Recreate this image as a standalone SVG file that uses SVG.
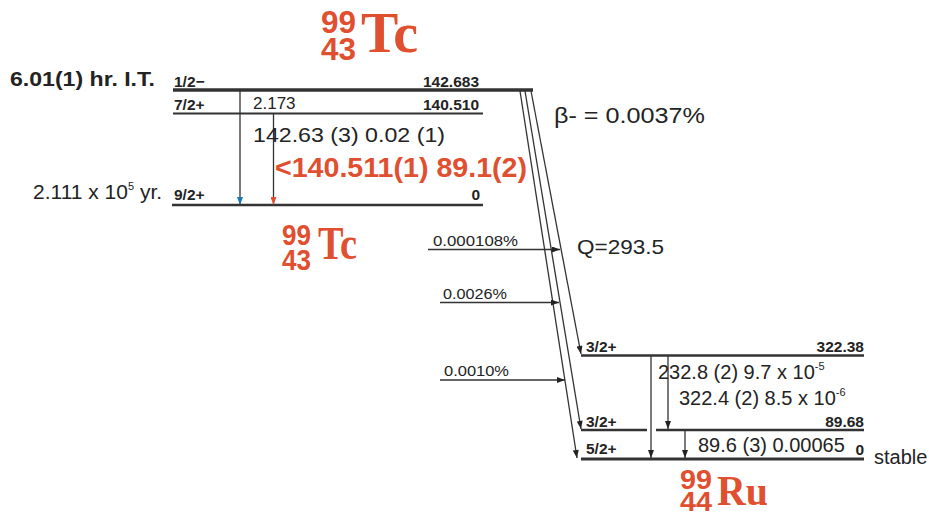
<svg xmlns="http://www.w3.org/2000/svg" width="929" height="517" viewBox="0 0 929 517">
<style>
text{font-family:"Liberation Sans",Arial,sans-serif;fill:#232323}
.b{font-weight:bold}
.lv{font-weight:bold;font-size:15.5px}
.t20{font-size:20px}
.pc{font-size:14px}
.red{fill:#E04F2F}
.nd{font-weight:bold;fill:#E04F2F}
.ns{font-family:"Liberation Serif","Times New Roman",serif;font-weight:bold;fill:#E04F2F}
.lvl{stroke:#333;fill:none}
.con{stroke:#333;stroke-width:1.3;fill:none}
</style>
<defs>
<marker id="ad" viewBox="0 0 8 6" refX="8" refY="3" markerWidth="9" markerHeight="6" markerUnits="userSpaceOnUse" orient="auto"><path d="M0,0L8,3L0,6z" fill="#232323"/></marker>
<marker id="ab" viewBox="0 0 8 6" refX="8" refY="3" markerWidth="9" markerHeight="6" markerUnits="userSpaceOnUse" orient="auto"><path d="M0,0L8,3L0,6z" fill="#1B75BC"/></marker>
<marker id="ar" viewBox="0 0 8 6" refX="8" refY="3" markerWidth="9" markerHeight="6" markerUnits="userSpaceOnUse" orient="auto"><path d="M0,0L8,3L0,6z" fill="#E04F2F"/></marker>
</defs>

<text x="10" y="86" class="b" font-size="21" textLength="145" lengthAdjust="spacingAndGlyphs">6.01(1) hr. I.T.</text>

<g id="tc99m-label">
<text x="321" y="33" class="nd" font-size="31" textLength="35" lengthAdjust="spacingAndGlyphs">99</text>
<text x="321" y="60" class="nd" font-size="31" textLength="35" lengthAdjust="spacingAndGlyphs">43</text>
<text x="361" y="52" class="ns" font-size="58" textLength="57" lengthAdjust="spacingAndGlyphs">Tc</text>
</g>

<g id="level-142683">
<line x1="173" y1="90" x2="533" y2="90" class="lvl" stroke-width="3.5"/>
<text x="174" y="87" class="lv">1/2−</text>
<text x="479" y="87" class="lv" text-anchor="end">142.683</text>
</g>
<g id="level-140510">
<line x1="173" y1="113.5" x2="483" y2="113.5" class="lvl" stroke-width="2"/>
<text x="174" y="110" class="lv">7/2+</text>
<text x="479" y="110" class="lv" text-anchor="end">140.510</text>
<text x="253" y="109" font-size="17">2.173</text>
</g>
<g id="level-tc-0">
<line x1="172" y1="205" x2="483" y2="205" class="lvl" stroke-width="2.5"/>
<text x="174" y="200" class="lv">9/2+</text>
<text x="480" y="200" class="lv" text-anchor="end">0</text>
<text x="33" y="199" font-size="21">2.111 x 10<tspan font-size="11" dy="-9">5</tspan><tspan dy="9"> yr.</tspan></text>
</g>
<g id="tc99-label">
<text x="282" y="245" class="nd" font-size="29" textLength="29" lengthAdjust="spacingAndGlyphs">99</text>
<text x="282" y="270" class="nd" font-size="29" textLength="29" lengthAdjust="spacingAndGlyphs">43</text>
<text x="318" y="259" class="ns" font-size="46" textLength="39" lengthAdjust="spacingAndGlyphs">Tc</text>
</g>

<g id="level-32238">
<line x1="581" y1="355.5" x2="864" y2="355.5" class="lvl" stroke-width="2.5"/>
<text x="586" y="352" class="lv">3/2+</text>
<text x="864" y="352" class="lv" text-anchor="end">322.38</text>
</g>
<g id="level-8968">
<line x1="581" y1="430" x2="647" y2="430" class="lvl" stroke-width="2.5"/>
<line x1="656" y1="430" x2="864" y2="430" class="lvl" stroke-width="2.5"/>
<text x="586" y="427" class="lv">3/2+</text>
<text x="864" y="427" class="lv" text-anchor="end">89.68</text>
</g>
<g id="level-ru-0">
<line x1="581" y1="459" x2="864" y2="459" class="lvl" stroke-width="3"/>
<text x="586" y="454" class="lv">5/2+</text>
<text x="864" y="455" class="lv" text-anchor="end">0</text>
<text x="874" y="464" class="t20">stable</text>
</g>
<g id="ru99-label">
<text x="680" y="489" class="nd" font-size="28" textLength="32" lengthAdjust="spacingAndGlyphs">99</text>
<text x="680" y="511" class="nd" font-size="28" textLength="32" lengthAdjust="spacingAndGlyphs">44</text>
<text x="717" y="505" class="ns" font-size="42" textLength="51" lengthAdjust="spacingAndGlyphs">Ru</text>
</g>

<g id="connectors">
<line x1="240" y1="91" x2="240" y2="205" class="con" marker-end="url(#ab)"/>
<line x1="273.5" y1="114" x2="273.5" y2="205" class="con" marker-end="url(#ar)"/>
<line x1="520" y1="91" x2="577" y2="458" class="con" marker-end="url(#ad)"/>
<line x1="525" y1="91" x2="581" y2="429" class="con" marker-end="url(#ad)"/>
<line x1="531" y1="91" x2="581" y2="354" class="con" marker-end="url(#ad)"/>
<line x1="428" y1="249.5" x2="560" y2="249.5" class="con" marker-end="url(#ad)"/>
<line x1="440" y1="302.5" x2="559" y2="302.5" class="con" marker-end="url(#ad)"/>
<line x1="440" y1="380" x2="565" y2="380" class="con" marker-end="url(#ad)"/>
<line x1="651" y1="356" x2="651" y2="458" class="con" marker-end="url(#ad)"/>
<line x1="668" y1="356" x2="668" y2="429" class="con" marker-end="url(#ad)"/>
<line x1="685" y1="431" x2="685" y2="458" class="con" marker-end="url(#ad)"/>
</g>

<g id="labels">
<text x="253" y="142" font-size="21" textLength="192" lengthAdjust="spacingAndGlyphs">142.63 (3) 0.02 (1)</text>
<text x="275" y="177" class="b red" font-size="28" textLength="252" lengthAdjust="spacingAndGlyphs">&lt;140.511(1) 89.1(2)</text>
<text x="554" y="123" font-size="22" textLength="151" lengthAdjust="spacingAndGlyphs">β- = 0.0037%</text>
<text x="577" y="254" font-size="21" textLength="87" lengthAdjust="spacingAndGlyphs">Q=293.5</text>
<text x="433" y="246" class="pc" textLength="85" lengthAdjust="spacingAndGlyphs">0.000108%</text>
<text x="443" y="299" class="pc" textLength="64" lengthAdjust="spacingAndGlyphs">0.0026%</text>
<text x="444" y="376" class="pc" textLength="65" lengthAdjust="spacingAndGlyphs">0.0010%</text>
<text x="658" y="379" class="t20">232.8 (2) 9.7 x 10<tspan font-size="11" dy="-9">-5</tspan></text>
<text x="679" y="405" class="t20">322.4 (2) 8.5 x 10<tspan font-size="11" dy="-9">-6</tspan></text>
<text x="698" y="452" class="t20">89.6 (3) 0.00065</text>
</g>
</svg>
